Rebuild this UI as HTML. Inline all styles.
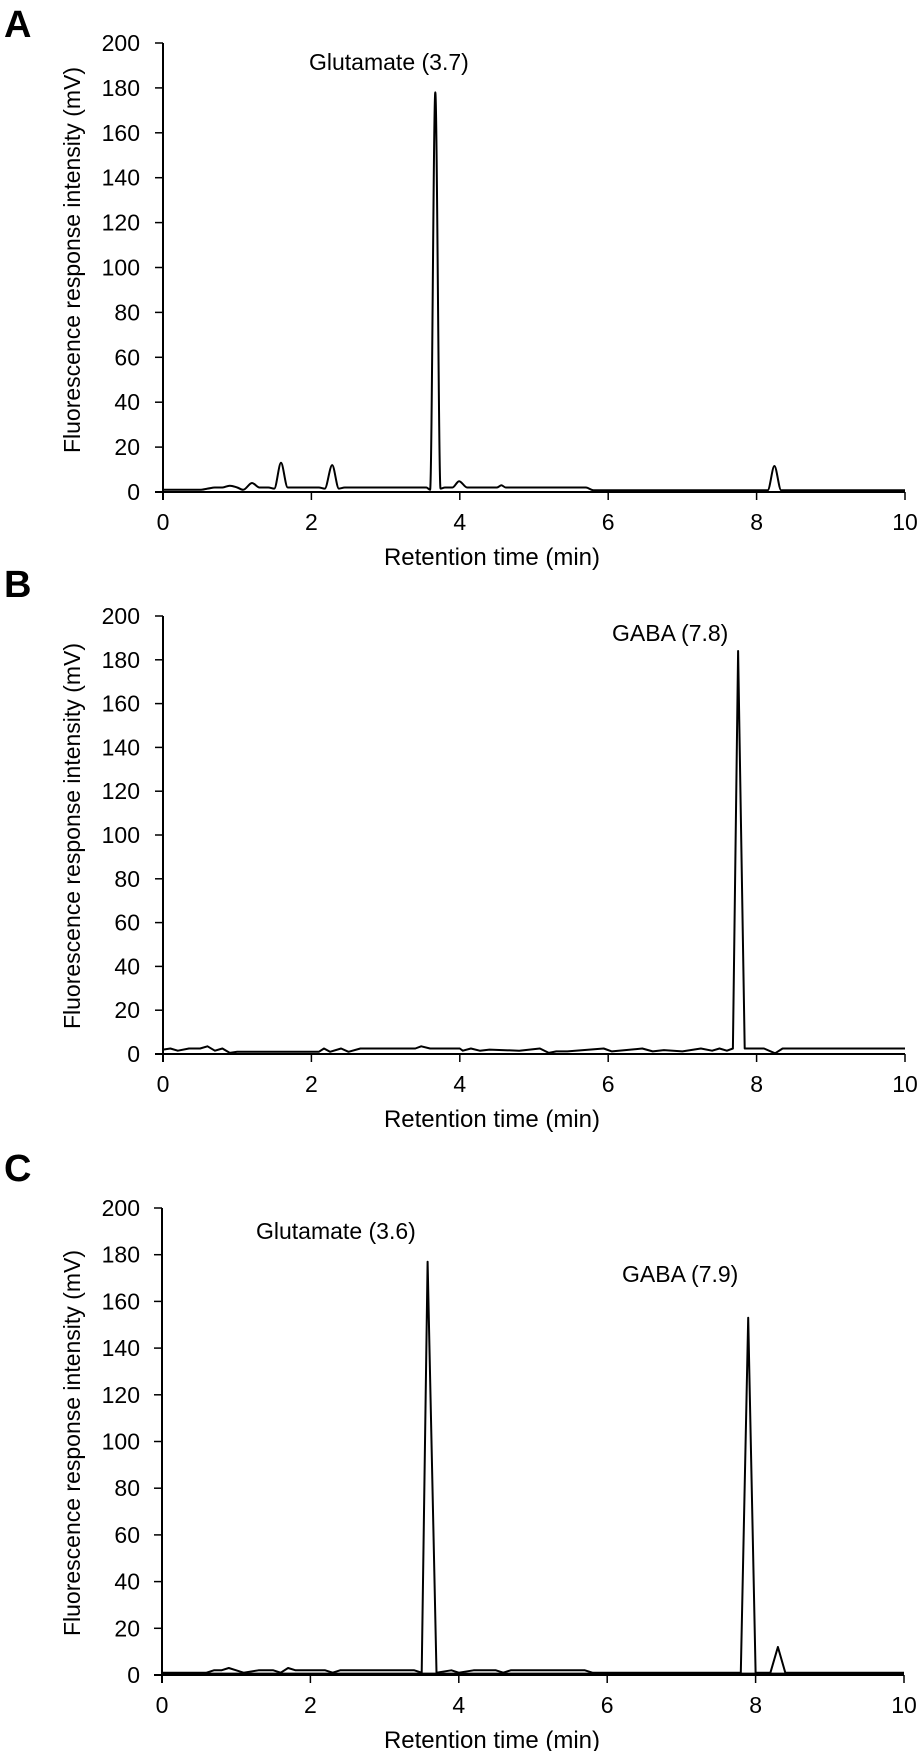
<!DOCTYPE html>
<html><head><meta charset="utf-8"><style>
html,body{margin:0;padding:0;background:#fff;}
svg{display:block;}
text{font-family:"Liberation Sans",Arial,sans-serif;fill:#000;}
</style></head>
<body>
<svg id="fig" width="922" height="1751" viewBox="0 0 922 1751"></svg>
<script>
// ---- data ----
const yTicks = [0, 20, 40, 60, 80, 100, 120, 140, 160, 180, 200];
const xTicks = [0, 2, 4, 6, 8, 10];
// Panel A (smooth trace)
const aTime = [0, 0.5, 0.6, 0.7, 0.8, 0.9, 1.0, 1.08, 1.2, 1.3, 1.42, 1.5, 1.59, 1.68, 1.75, 2.1, 2.18, 2.28, 2.37, 2.45, 3.55, 3.6, 3.67, 3.74, 3.8, 3.9, 3.99, 4.1, 4.2, 4.5, 4.56, 4.62, 5.7, 5.8, 8.15, 8.24, 8.33, 10];
const aValue = [1, 1, 1.5, 2, 2, 2.8, 2, 1, 4, 2, 2, 1.5, 13, 2, 2, 2, 1.5, 12, 1.5, 2, 2, 1, 178, 1.5, 2, 2, 4.8, 2, 2, 2, 3, 2, 2, 0.8, 0.8, 11.6, 0.8, 0.8];
// Panel B
const bTime = [0, 0.1, 0.2, 0.35, 0.5, 0.6, 0.7, 0.8, 0.9, 1.0, 2.1, 2.17, 2.25, 2.4, 2.5, 2.66, 3.4, 3.48, 3.6, 4.0, 4.04, 4.15, 4.27, 4.4, 4.8, 5.08, 5.2, 5.3, 5.45, 5.94, 6.05, 6.46, 6.6, 6.75, 7.0, 7.25, 7.4, 7.5, 7.6, 7.68, 7.75, 7.84, 7.9, 8.1, 8.25, 8.35, 10];
const bValue = [2, 2.5, 1.5, 2.5, 2.5, 3.5, 1.5, 2.5, 0.5, 1, 1, 2.5, 1, 2.5, 1, 2.5, 2.5, 3.5, 2.5, 2.5, 1.5, 2.5, 1.5, 2, 1.5, 2.5, 0.5, 1.2, 1.2, 2.5, 1.2, 2.5, 1.2, 1.8, 1.2, 2.5, 1.5, 2.5, 1.5, 2.5, 184, 2.5, 2.5, 2.5, 0.3, 2.5, 2.5];
// Panel C
const cTime = [0, 0.6, 0.7, 0.8, 0.9, 1.0, 1.1, 1.3, 1.5, 1.6, 1.7, 1.8, 2.2, 2.3, 2.4, 3.4, 3.5, 3.58, 3.7, 3.9, 4.0, 4.2, 4.5, 4.6, 4.7, 5.7, 5.8, 7.8, 7.9, 8.0, 8.2, 8.3, 8.4, 10];
const cValue = [1, 1, 2, 2, 3, 2, 1, 2, 2, 1, 3, 2, 2, 1, 2, 2, 1, 177, 1, 2, 1, 2, 2, 1, 2, 2, 1, 1, 153, 1, 1, 12, 1, 1];
const cBaseTime = [0, 10];
const cBaseValue = [0.6, 0.6];

const panels = [
  {id:'a', letter:'A', letterY:37, x0:163, x1:905, y0:492, y200:43, yTitleY:260, time:aTime, value:aValue, smooth:true,
   labels:[{t:'Glutamate (3.7)', x:309, y:70, name:'glutamate-peak-label'}]},
  {id:'b', letter:'B', letterY:597, x0:163, x1:905, y0:1054, y200:616, yTitleY:836, time:bTime, value:bValue, smooth:false,
   labels:[{t:'GABA (7.8)', x:612, y:641, name:'gaba-peak-label'}]},
  {id:'c', letter:'C', letterY:1181, x0:162, x1:904, y0:1675, y200:1208, yTitleY:1443, time:cTime, value:cValue, smooth:false,
   labels:[{t:'Glutamate (3.6)', x:256, y:1239, name:'glutamate-peak-label'},{t:'GABA (7.9)', x:622, y:1282, name:'gaba-peak-label'}]}
];

const NS = 'http://www.w3.org/2000/svg';
const svg = document.getElementById('fig');
function mk(tag, attrs, parent){
  const e = document.createElementNS(NS, tag);
  for (const k in attrs) e.setAttribute(k, attrs[k]);
  (parent||svg).appendChild(e);
  return e;
}
// monotone cubic (Fritsch-Carlson) - no overshoot
function smoothPath(pts){
  const n = pts.length;
  const dx = [], s = [];
  for (let i=0;i<n-1;i++){ dx.push(pts[i+1][0]-pts[i][0]); s.push((pts[i+1][1]-pts[i][1])/dx[i]); }
  const m = new Array(n);
  m[0] = s[0]; m[n-1] = s[n-2];
  for (let i=1;i<n-1;i++){
    if (s[i-1]*s[i] <= 0) m[i] = 0;
    else { const w1 = 2*dx[i]+dx[i-1], w2 = dx[i]+2*dx[i-1]; m[i] = (w1+w2)/(w1/s[i-1]+w2/s[i]); }
  }
  let d = 'M' + pts[0][0].toFixed(1) + ',' + pts[0][1].toFixed(1);
  for (let i=0;i<n-1;i++){
    const h = dx[i]/3;
    d += ' C' + (pts[i][0]+h).toFixed(1)+','+(pts[i][1]+m[i]*h).toFixed(1)+' '+
         (pts[i+1][0]-h).toFixed(1)+','+(pts[i+1][1]-m[i+1]*h).toFixed(1)+' '+
         pts[i+1][0].toFixed(1)+','+pts[i+1][1].toFixed(1);
  }
  return d;
}

panels.forEach(p => {
  const sx = t => p.x0 + (t/10)*(p.x1-p.x0);
  const sy = v => p.y0 - (v/200)*(p.y0-p.y200);
  const g = mk('g', {});
  
  

  const L = mk('text', {x:4, y:p.letterY, 'font-size':38, 'font-weight':'bold'}, g);
  L.textContent = p.letter;
  
  

  const ya = mk('line', {x1:p.x0, y1:p.y200, x2:p.x0, y2:p.y0+8, stroke:'#000', 'stroke-width':2}, g);
  
  
  const xa = mk('line', {x1:p.x0-8, y1:p.y0, x2:p.x1, y2:p.y0, stroke:'#000', 'stroke-width':2}, g);
  
  

  yTicks.forEach(v => {
    mk('line', {x1:p.x0-8, y1:sy(v), x2:p.x0, y2:sy(v), stroke:'#000', 'stroke-width':1.5}, g);
    const t = mk('text', {x:140, y:sy(v)+8, 'font-size':23, 'text-anchor':'end'}, g);
    t.textContent = v;
    
    
  });
  xTicks.forEach(v => {
    mk('line', {x1:sx(v), y1:p.y0, x2:sx(v), y2:p.y0+8, stroke:'#000', 'stroke-width':1.5}, g);
    const t = mk('text', {x:sx(v), y:p.y0+38, 'font-size':23, 'text-anchor':'middle'}, g);
    t.textContent = v;
    
    
  });

  const yt = mk('text', {x:80, y:p.yTitleY, 'font-size':23, 'text-anchor':'middle', transform:'rotate(-90 80 '+p.yTitleY+')'}, g);
  yt.textContent = 'Fluorescence response intensity (mV)';
  
  
  const xt = mk('text', {x:492, y:p.y0+73, 'font-size':24, 'text-anchor':'middle'}, g);
  xt.textContent = 'Retention time (min)';
  
  

  const pts = p.time.map((t,i) => [sx(t), sy(p.value[i])]);
  let d;
  if (p.smooth) d = smoothPath(pts);
  else d = 'M' + pts.map(q => q[0].toFixed(1)+','+q[1].toFixed(1)).join(' L');
  const tr = mk('path', {d:d, fill:'none', stroke:'#000', 'stroke-width':2, 'stroke-linejoin':'round'}, g);
  
  

  if (p.id === 'c') {
    const bp = cBaseTime.map((t,i) => sx(t).toFixed(1)+','+sy(cBaseValue[i]).toFixed(1));
    const bl = mk('path', {d:'M'+bp.join(' L'), fill:'none', stroke:'#000', 'stroke-width':2}, g);
    
    
  }

  p.labels.forEach(l => {
    const t = mk('text', {x:l.x, y:l.y, 'font-size':23}, g);
    t.textContent = l.t;
    
    
  });
});
</script>
</body></html>
